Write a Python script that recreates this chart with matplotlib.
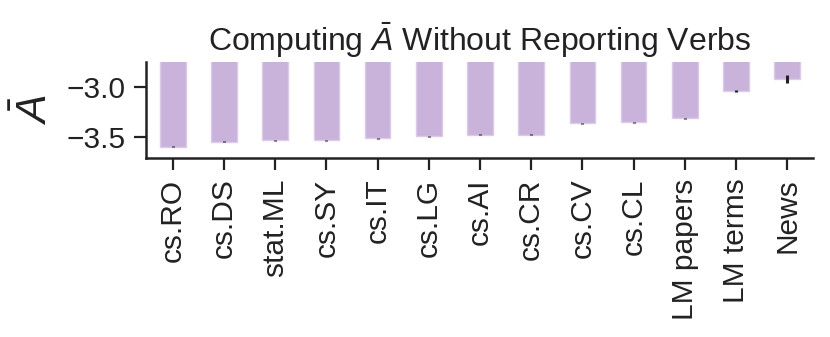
import numpy as np
import matplotlib
matplotlib.use("Agg")
import matplotlib.pyplot as plt

plt.rcParams['font.family'] = ['Liberation Sans', 'DejaVu Sans']
plt.rcParams['mathtext.fontset'] = 'custom'
plt.rcParams['mathtext.it'] = 'Liberation Sans:italic'
plt.rcParams['mathtext.rm'] = 'Liberation Sans'

# data
categories = ['cs.RO', 'cs.DS', 'stat.ML', 'cs.SY', 'cs.IT', 'cs.LG', 'cs.AI',
              'cs.CR', 'cs.CV', 'cs.CL', 'LM papers', 'LM terms', 'News']
values = [-3.60, -3.55, -3.535, -3.535, -3.515, -3.495, -3.48,
          -3.48, -3.365, -3.357, -3.313, -3.045, -2.925]
errors = [0.005, 0.005, 0.005, 0.005, 0.005, 0.005, 0.005,
          0.005, 0.004, 0.004, 0.005, 0.008, 0.04]
yticks = [-3.0, -3.5]

fig, ax = plt.subplots(figsize=(8.3, 3.37), dpi=100)
x = np.arange(len(categories))
ax.bar(x, values, width=0.5, color='#c9b3db', edgecolor='#dccbe8', linewidth=1,
       yerr=errors, ecolor='#222222', error_kw=dict(elinewidth=2.2, capsize=0))

ax.set_xlim(-0.52, len(categories) - 0.49)
ax.set_ylim(-3.715, -2.755)
ax.set_yticks(yticks)
ax.set_yticklabels(['\u22123.0', '\u22123.5'])
ax.set_xticks(x)
ax.set_xticklabels(categories, rotation=90)

ax.spines['top'].set_visible(False)
ax.spines['right'].set_visible(False)
for s in ('left', 'bottom'):
    ax.spines[s].set_linewidth(1.8)
    ax.spines[s].set_color('#222222')
ax.tick_params(axis='both', labelsize=21.5, length=8.5, width=1.6, color='#222222',
               labelcolor='#222222', pad=6)

ax.set_ylabel(r'$\bar{A}$', fontsize=31, color='#222222', labelpad=8)
ax.set_title(r'Computing $\bar{A}$ Without Reporting Verbs', fontsize=23, color='#222222', pad=8)

fig.subplots_adjust(left=0.176, right=0.98, top=0.816, bottom=0.53)
fig.savefig('out.png', dpi=100)
